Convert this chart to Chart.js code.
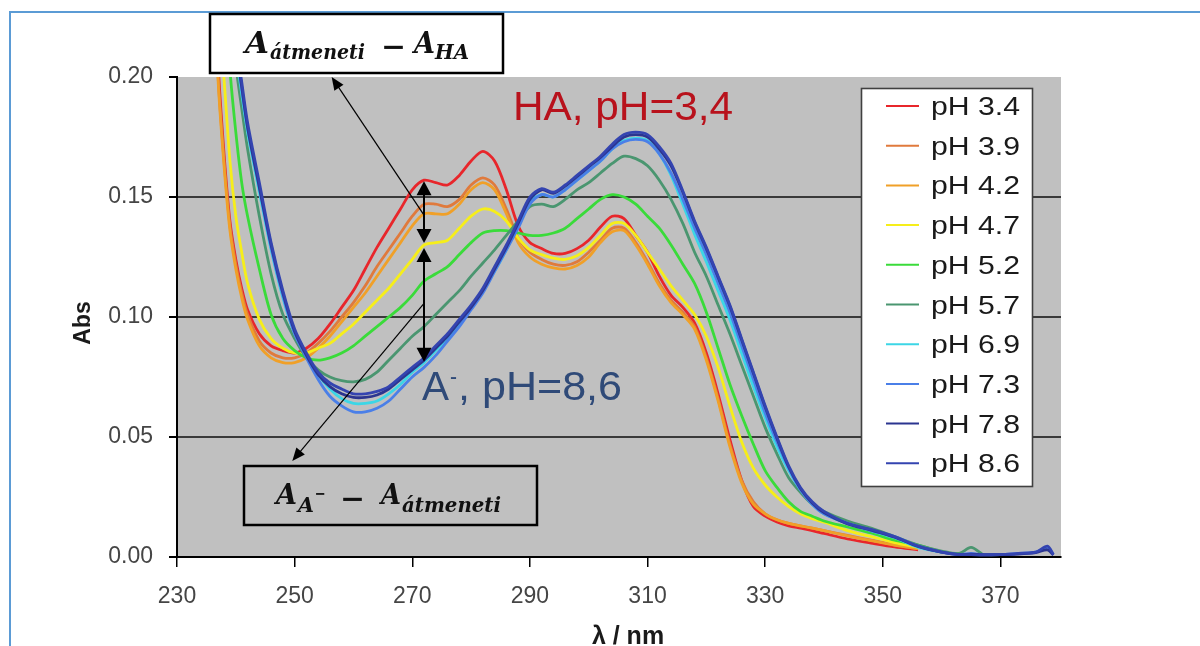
<!DOCTYPE html>
<html>
<head>
<meta charset="utf-8">
<script src="https://cdn.jsdelivr.net/npm/chart.js@4.4.1/dist/chart.umd.min.js"></script>
<style>
  html, body { margin: 0; padding: 0; background: #ffffff; }
  canvas { display: block; }
</style>
</head>
<body>
<canvas id="c" width="1200" height="646"></canvas>
<script>
// ---------------- DATA ----------------
const WAVELENGTH = [236, 237, 238, 239, 240, 241, 242,
  244, 246, 248, 250, 252, 254, 256, 258, 260, 262,
  264, 266, 268, 270, 272, 274, 276, 278, 280, 282,
  284, 286, 288, 290, 292, 294, 296, 298, 300, 302,
  304, 306, 308, 310, 312, 314, 316, 318, 320, 322,
  324, 326, 328, 330, 332, 334, 336, 338, 340,
  344, 348, 352, 356,
  360, 363, 365, 367, 370, 373, 376, 378, 379];

const N9 = [null, null, null, null, null, null, null, null, null];

const PH_3_4 = [0.26, 0.205, 0.168, 0.140, 0.124, 0.112, 0.103,
  0.093, 0.088, 0.086, 0.085, 0.087, 0.091, 0.097, 0.104, 0.111, 0.120,
  0.129, 0.137, 0.145, 0.153, 0.157, 0.156, 0.155, 0.159, 0.165, 0.169,
  0.165, 0.153, 0.138, 0.131, 0.1285, 0.1265, 0.1265, 0.1285, 0.132, 0.1375,
  0.142, 0.141, 0.134, 0.127, 0.117, 0.109, 0.104, 0.0975, 0.085, 0.068,
  0.049, 0.032, 0.021, 0.017, 0.0146, 0.013, 0.012, 0.011, 0.0098,
  0.0075, 0.0058, 0.0042, 0.003].concat(N9);

const PH_3_9 = [0.26, 0.20, 0.165, 0.138, 0.122, 0.110, 0.101,
  0.090, 0.085, 0.083, 0.083, 0.085, 0.089, 0.094, 0.100, 0.106, 0.113,
  0.121, 0.128, 0.135, 0.142, 0.147, 0.147, 0.146, 0.149, 0.155, 0.158,
  0.155, 0.145, 0.133, 0.127, 0.124, 0.122, 0.1215, 0.123, 0.127, 0.132,
  0.137, 0.137, 0.131, 0.123, 0.114, 0.107, 0.102, 0.096, 0.083, 0.066,
  0.047, 0.032, 0.023, 0.018, 0.0155, 0.014, 0.013, 0.012, 0.011,
  0.009, 0.007, 0.005, 0.0035].concat(N9);

const PH_4_2 = [0.26, 0.198, 0.163, 0.136, 0.120, 0.108, 0.099,
  0.088, 0.083, 0.081, 0.081, 0.083, 0.087, 0.092, 0.098, 0.104, 0.110,
  0.117, 0.124, 0.131, 0.138, 0.143, 0.143, 0.143, 0.147, 0.153, 0.156,
  0.153, 0.143, 0.131, 0.125, 0.122, 0.1205, 0.120, 0.1215, 0.125, 0.131,
  0.1355, 0.136, 0.130, 0.122, 0.113, 0.106, 0.101, 0.095, 0.082, 0.065,
  0.046, 0.031, 0.022, 0.018, 0.0155, 0.014, 0.013, 0.012, 0.011,
  0.0088, 0.0068, 0.005, 0.0035].concat(N9);

const PH_4_7 = [null, 0.23, 0.199, 0.165, 0.142, 0.127, 0.114,
  0.099, 0.091, 0.087, 0.085, 0.085, 0.087, 0.089, 0.093, 0.097, 0.102,
  0.107, 0.112, 0.118, 0.124, 0.130, 0.131, 0.132, 0.137, 0.142, 0.145,
  0.144, 0.140, 0.133, 0.128, 0.126, 0.1245, 0.124, 0.1255, 0.129, 0.134,
  0.139, 0.139, 0.134, 0.127, 0.120, 0.113, 0.107, 0.101, 0.092, 0.079,
  0.063, 0.048, 0.037, 0.030, 0.025, 0.021, 0.018, 0.016, 0.0145,
  0.011, 0.0085, 0.006, 0.004].concat(N9);

const PH_5_2 = [null, null, 0.24, 0.203, 0.177, 0.156, 0.142,
  0.120, 0.101, 0.091, 0.086, 0.083, 0.082, 0.083, 0.085, 0.088, 0.092,
  0.096, 0.100, 0.104, 0.109, 0.115, 0.118, 0.121, 0.126, 0.131, 0.135,
  0.136, 0.136, 0.135, 0.134, 0.134, 0.135, 0.137, 0.141, 0.145, 0.149,
  0.151, 0.150, 0.147, 0.142, 0.137, 0.130, 0.122, 0.114, 0.102, 0.087,
  0.072, 0.059, 0.047, 0.036, 0.029, 0.023, 0.019, 0.017, 0.015,
  0.0125, 0.010, 0.007, 0.005,
  0.002, null, null, null, null, null, null, null, null];

const PH_5_7 = [null, null, null, 0.23, 0.205, 0.187, 0.170,
  0.142, 0.118, 0.101, 0.091, 0.083, 0.078, 0.075, 0.0735, 0.073, 0.074,
  0.077, 0.082, 0.087, 0.092, 0.096, 0.101, 0.106, 0.111, 0.117, 0.1225,
  0.128, 0.134, 0.140, 0.146, 0.147, 0.146, 0.149, 0.153, 0.156, 0.160,
  0.164, 0.167, 0.166, 0.163, 0.157, 0.149, 0.139, 0.127, 0.117, 0.105,
  0.093, 0.080, 0.067, 0.054, 0.043, 0.033, 0.027, 0.022, 0.019,
  0.015, 0.012, 0.0085, 0.005,
  0.0025, 0.0015, 0.004, 0.001, null, null, null, null, null];

const PH_6_9 = [null, null, null, null, 0.210, 0.193, 0.177,
  0.152, 0.128, 0.108, 0.093, 0.084, 0.076, 0.070, 0.066, 0.064, 0.064,
  0.065, 0.068, 0.072, 0.077, 0.081, 0.086, 0.091, 0.097, 0.104, 0.111,
  0.119, 0.128, 0.138, 0.148, 0.151, 0.150, 0.153, 0.157, 0.161, 0.165,
  0.170, 0.1735, 0.1745, 0.1735, 0.168, 0.159, 0.147, 0.1345, 0.123, 0.111,
  0.099, 0.085, 0.071, 0.058, 0.046, 0.036, 0.028, 0.022, 0.018,
  0.014, 0.011, 0.008, 0.004,
  0.002, null, null, null, null, null, null, null, null];

const PH_7_3 = [null, null, null, null, 0.212, 0.195, 0.179,
  0.154, 0.129, 0.109, 0.093, 0.083, 0.074, 0.067, 0.063, 0.0605, 0.0605,
  0.062, 0.065, 0.070, 0.075, 0.079, 0.084, 0.090, 0.096, 0.103, 0.110,
  0.119, 0.128, 0.137, 0.147, 0.151, 0.150, 0.153, 0.157, 0.161, 0.165,
  0.170, 0.173, 0.174, 0.173, 0.168, 0.160, 0.149, 0.137, 0.126, 0.114,
  0.102, 0.088, 0.074, 0.060, 0.048, 0.037, 0.028, 0.022, 0.018,
  0.014, 0.011, 0.0085, 0.0045,
  0.002, 0.001, 0.0015, 0.001, 0.001, 0.0015, 0.002, 0.004, 0.001];

const PH_7_8 = [null, null, null, null, 0.213, 0.196, 0.179,
  0.154, 0.130, 0.110, 0.094, 0.084, 0.076, 0.071, 0.068, 0.0665, 0.0665,
  0.0675, 0.070, 0.074, 0.078, 0.082, 0.087, 0.092, 0.098, 0.104, 0.111,
  0.120, 0.129, 0.139, 0.149, 0.153, 0.1515, 0.1545, 0.1585, 0.1625, 0.1665,
  0.171, 0.175, 0.176, 0.175, 0.170, 0.163, 0.152, 0.1395, 0.1285, 0.1165,
  0.1045, 0.0905, 0.0765, 0.0625, 0.0495, 0.0375, 0.0285, 0.0225, 0.0185,
  0.0138, 0.0112, 0.0083, 0.0044,
  0.002, 0.001, 0.0012, 0.001, 0.001, 0.0012, 0.0018, 0.003, 0.0008];

const PH_8_6 = [null, null, null, null, 0.215, 0.198, 0.181,
  0.156, 0.131, 0.111, 0.095, 0.085, 0.077, 0.0725, 0.070, 0.068, 0.068,
  0.069, 0.071, 0.075, 0.079, 0.083, 0.088, 0.093, 0.099, 0.105, 0.112,
  0.121, 0.130, 0.140, 0.150, 0.1535, 0.152, 0.155, 0.159, 0.163, 0.167,
  0.172, 0.176, 0.177, 0.176, 0.171, 0.164, 0.1525, 0.140, 0.129, 0.117,
  0.105, 0.091, 0.077, 0.063, 0.050, 0.038, 0.029, 0.023, 0.019,
  0.014, 0.0115, 0.0085, 0.0045,
  0.002, 0.001, 0.001, 0.0008, 0.001, 0.0015, 0.002, 0.0045, 0.001];

const SERIES_LABELS = ['pH 3.4', 'pH 3.9', 'pH 4.2', 'pH 4.7', 'pH 5.2', 'pH 5.7', 'pH 6.9', 'pH 7.3', 'pH 7.8', 'pH 8.6'];
const SERIES_VALUES = [PH_3_4, PH_3_9, PH_4_2, PH_4_7, PH_5_2, PH_5_7, PH_6_9, PH_7_3, PH_7_8, PH_8_6];
const SERIES_COLORS = ['#E8262B', '#E07A3C', '#F0A028', '#F6EE1A', '#3ADB3A', '#4A9670', '#3CD6E6', '#4A7FE8', '#2B3590', '#3444B0'];

const X_TICKS = [230, 250, 270, 290, 310, 330, 350, 370];
const Y_TICKS = [0, 0.05, 0.10, 0.15, 0.20];

const ARROW_NM = 272;                 // wavelength of the vertical double arrows
const ARROW1_END = [256.3, 0.200];    // tip of arrow to upper box
const ARROW2_END = [249.6, 0.040];    // tip of arrow to lower box

// ---------------- HELPERS ----------------
function fitText(ctx, text, x, baseline, width, font, color) {
  ctx.save();
  ctx.font = font;
  ctx.fillStyle = color;
  ctx.textAlign = 'left';
  ctx.textBaseline = 'alphabetic';
  const w = ctx.measureText(text).width;
  ctx.translate(x, baseline);
  ctx.scale(width / w, 1);
  ctx.fillText(text, 0, 0);
  ctx.restore();
}
function head(ctx, x1, y1, x2, y2, len, wid) {
  const a = Math.atan2(y2 - y1, x2 - x1);
  const bx = x2 - len * Math.cos(a), by = y2 - len * Math.sin(a);
  ctx.beginPath();
  ctx.moveTo(x2, y2);
  ctx.lineTo(bx + wid / 2 * Math.sin(a), by - wid / 2 * Math.cos(a));
  ctx.lineTo(bx - wid / 2 * Math.sin(a), by + wid / 2 * Math.cos(a));
  ctx.closePath();
  ctx.fill();
}
function arrow(ctx, x1, y1, x2, y2, lw, len, wid, both) {
  const a = Math.atan2(y2 - y1, x2 - x1);
  ctx.lineWidth = lw;
  ctx.beginPath();
  ctx.moveTo(both ? x1 + len * 0.8 * Math.cos(a) : x1, both ? y1 + len * 0.8 * Math.sin(a) : y1);
  ctx.lineTo(x2 - len * 0.8 * Math.cos(a), y2 - len * 0.8 * Math.sin(a));
  ctx.stroke();
  head(ctx, x1, y1, x2, y2, len, wid);
  if (both) head(ctx, x2, y2, x1, y1, len, wid);
}

const SERIF = 'bold italic {S}px "DejaVu Serif", "Liberation Serif", serif';
function serif(s) { return SERIF.replace('{S}', s); }
const TICK_FONT = '"Liberation Sans", Arial, sans-serif';

const decor = {
  id: 'decor',
  beforeDraw(chart) {
    const { ctx, chartArea: a } = chart;
    ctx.save();
    ctx.fillStyle = '#ffffff';
    ctx.fillRect(0, 0, chart.width, chart.height);
    ctx.fillStyle = '#C0C0C0';
    ctx.fillRect(a.left, a.top, a.right - a.left, a.bottom - a.top);
    ctx.strokeStyle = '#5B9BD5';
    ctx.lineWidth = 2;
    ctx.beginPath();
    ctx.moveTo(10, chart.height + 5);
    ctx.lineTo(10, 12);
    ctx.lineTo(chart.width + 5, 12);
    ctx.stroke();
    ctx.restore();
  },
  afterDraw(chart) {
    const { ctx } = chart;
    const xs = chart.scales.x, ys = chart.scales.y;
    const X = v => xs.getPixelForValue(v), Y = v => ys.getPixelForValue(v);
    ctx.save();

    // axis titles
    ctx.fillStyle = '#1a1a1a';
    ctx.font = 'bold 23px "Liberation Sans", Arial, sans-serif';
    ctx.textAlign = 'center';
    ctx.textBaseline = 'middle';
    ctx.save();
    ctx.translate(84, 323);
    ctx.rotate(-Math.PI / 2);
    ctx.fillText('Abs', 0, 0);
    ctx.restore();
    ctx.font = 'bold 25px "Liberation Sans", Arial, sans-serif';
    ctx.textBaseline = 'alphabetic';
    ctx.fillText('λ / nm', 628, 644);

    // in-plot labels
    fitText(ctx, 'HA, pH=3,4', 513, 120, 220, '40px "Liberation Sans", Arial, sans-serif', '#B8121C');
    const blueTxt = '#2F4A78';
    fitText(ctx, 'A', 422, 400, 27, '40px "Liberation Sans", Arial, sans-serif', blueTxt);
    fitText(ctx, '-', 450, 384, 7, '24px "Liberation Sans", Arial, sans-serif', blueTxt);
    fitText(ctx, ', pH=8,6', 458, 400, 164, '40px "Liberation Sans", Arial, sans-serif', blueTxt);

    // vertical double arrows at ARROW_NM
    const idx = WAVELENGTH.indexOf(ARROW_NM);
    const ax = X(ARROW_NM);
    const yTop = Y(PH_3_4[idx]) + 1;
    const yMid = Y(PH_4_7[idx]);
    const yBot = Y(PH_8_6[idx]) + 4;
    ctx.fillStyle = '#000';
    ctx.strokeStyle = '#000';
    arrow(ctx, ax, yTop, ax, yMid - 2, 2, 14, 15, true);
    arrow(ctx, ax, yMid + 3, ax, yBot, 2, 14, 15, true);

    // diagonal arrows to the boxes
    arrow(ctx, ax, (yTop + yMid) / 2 + 2, X(ARROW1_END[0]), Y(ARROW1_END[1]), 1.2, 13, 11, false);
    arrow(ctx, ax, (yMid + yBot) / 2, X(ARROW2_END[0]), Y(ARROW2_END[1]), 1.2, 13, 11, false);

    // upper box
    ctx.fillStyle = '#ffffff';
    ctx.fillRect(210, 14, 293, 59);
    ctx.strokeStyle = '#000';
    ctx.lineWidth = 2.5;
    ctx.strokeRect(210, 14, 293, 59);
    const ink = '#111';
    fitText(ctx, 'A', 245, 53, 24, serif(30), ink);
    fitText(ctx, 'átmeneti', 270, 59, 95, serif(21), ink);
    fitText(ctx, '−', 381, 56, 25, serif(28), ink);
    fitText(ctx, 'A', 414, 53, 21, serif(30), ink);
    fitText(ctx, 'HA', 435, 59, 34, serif(21), ink);

    // lower box (transparent)
    ctx.lineWidth = 2.5;
    ctx.strokeRect(244, 466, 293, 59);
    fitText(ctx, 'A', 276, 504, 21, serif(28), ink);
    fitText(ctx, 'A', 298, 512, 16, serif(20), ink);
    fitText(ctx, '−', 314.5, 499, 11, serif(16), ink);
    fitText(ctx, '−', 340, 508, 25, serif(28), ink);
    fitText(ctx, 'A', 381, 504, 20, serif(28), ink);
    fitText(ctx, 'átmeneti', 402, 512, 99, serif(21), ink);

    // legend
    const L = { x: 861.5, y: 88.5, w: 171, h: 398 };
    ctx.fillStyle = '#ffffff';
    ctx.fillRect(L.x, L.y, L.w, L.h);
    ctx.strokeStyle = '#404040';
    ctx.lineWidth = 1.6;
    ctx.strokeRect(L.x, L.y, L.w, L.h);
    chart.data.datasets.forEach((ds, i) => {
      const yy = 106 + i * 39.7;
      ctx.strokeStyle = ds.borderColor;
      ctx.lineWidth = 2;
      ctx.beginPath();
      ctx.moveTo(886, yy);
      ctx.lineTo(919, yy);
      ctx.stroke();
      fitText(ctx, ds.label, 931, yy + 9, 89, '25px "Liberation Sans", Arial, sans-serif', '#1a1a1a');
    });

    ctx.restore();
  }
};

// ---------------- CHART ----------------
const datasets = SERIES_LABELS.map((label, i) => ({
  label,
  data: WAVELENGTH.map((x, j) => ({ x, y: SERIES_VALUES[i][j] })),
  borderColor: SERIES_COLORS[i],
  backgroundColor: SERIES_COLORS[i],
  borderWidth: 2.8,
  pointRadius: 0,
  tension: 0.3,
  fill: false,
  spanGaps: false,
  order: SERIES_LABELS.length - i
}));

new Chart(document.getElementById('c'), {
  type: 'line',
  data: { datasets },
  options: {
    responsive: false,
    animation: false,
    events: [],
    layout: { padding: { left: 0, top: 77, right: 139, bottom: 0 } },
    plugins: { legend: { display: false }, tooltip: { enabled: false } },
    scales: {
      x: {
        type: 'linear',
        min: 230,
        max: 380.3,
        afterBuildTicks: s => { s.ticks = X_TICKS.map(v => ({ value: v })); },
        afterFit: s => { s.height = 89; },
        grid: { display: true, drawOnChartArea: false, drawTicks: true, tickLength: 10, color: '#000', lineWidth: 1.5 },
        border: { display: true, color: '#000', width: 2 },
        ticks: {
          autoSkip: false, maxRotation: 0, padding: 16,
          color: '#454545',
          font: { family: TICK_FONT, size: 23 },
          callback: v => String(v)
        }
      },
      y: {
        min: 0,
        max: 0.2,
        afterBuildTicks: s => { s.ticks = Y_TICKS.map(v => ({ value: v })); },
        afterFit: s => { s.width = 177; },
        grid: {
          color: c => (c.tick && Math.abs(c.tick.value - 0.2) < 1e-9) ? 'rgba(0,0,0,0)' : '#3a3a3a',
          lineWidth: 2,
          tickColor: '#000',
          tickLength: 8
        },
        border: { display: true, color: '#000', width: 2 },
        ticks: {
          padding: 16,
          color: '#454545',
          font: { family: TICK_FONT, size: 23 },
          callback: v => Number(v).toFixed(2)
        }
      }
    }
  },
  plugins: [decor]
});
</script>
</body>
</html>
